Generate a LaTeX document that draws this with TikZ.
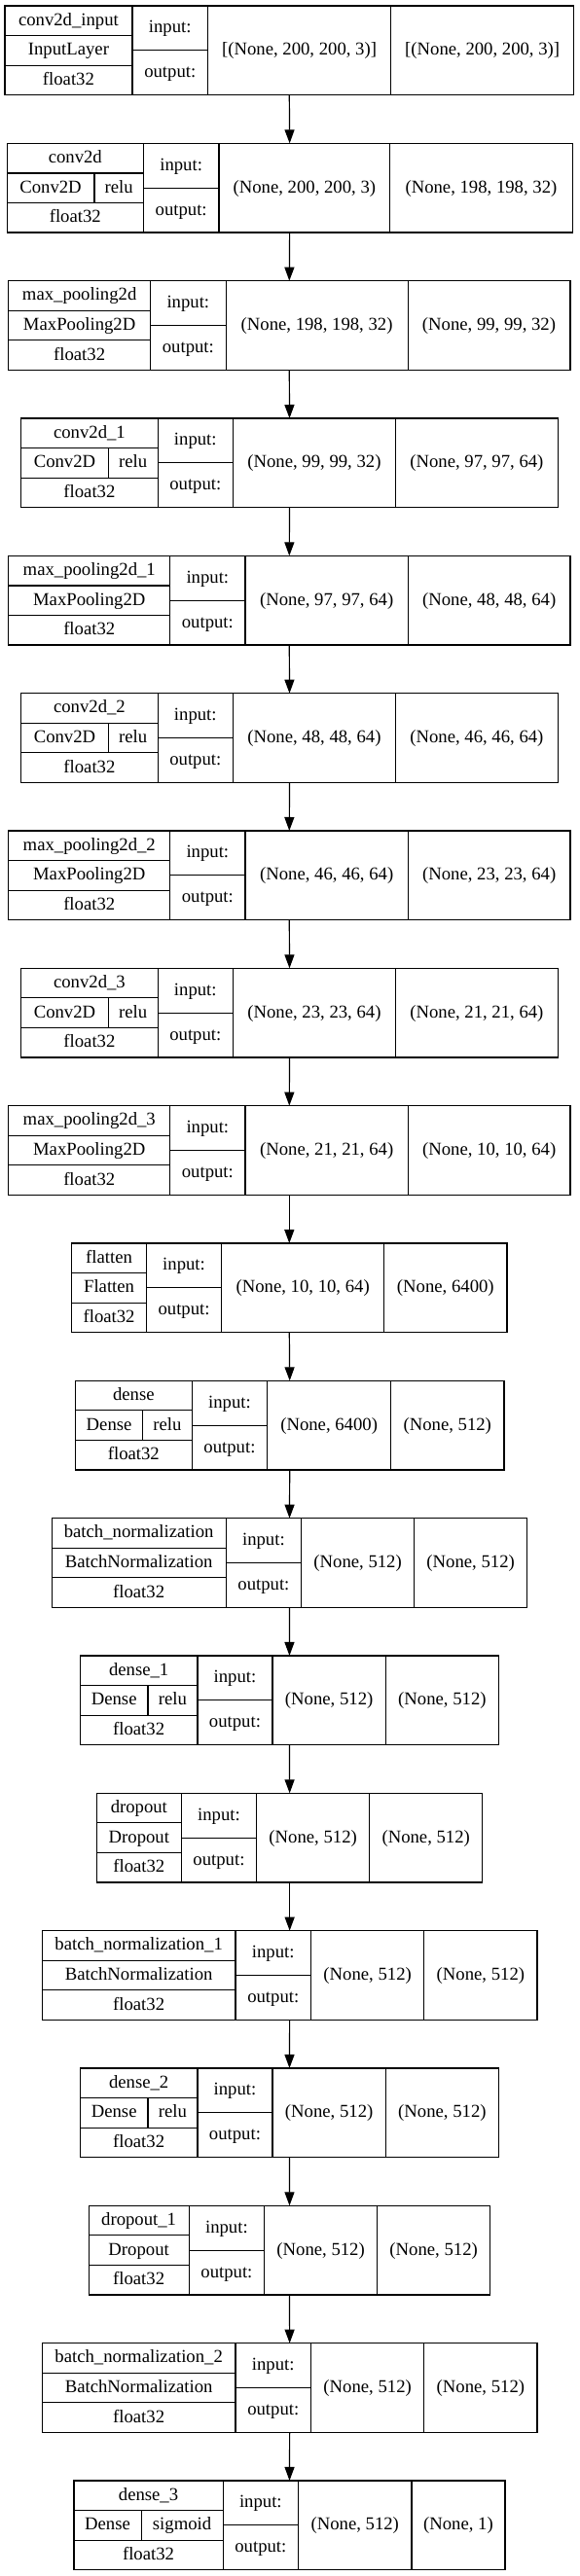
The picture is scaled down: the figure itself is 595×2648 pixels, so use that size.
\documentclass[tikz,border=0pt]{standalone}
\usepackage{fontspec}
\setmainfont{Liberation Serif}
\usetikzlibrary{arrows.meta}
\tikzset{
  outerbox/.style={draw, rectangle, line width=1.2pt, inner sep=0pt, outer sep=0pt, minimum height=91.7pt},
  ln/.style={line width=1.2pt},
  txt/.style={inner sep=0pt, text height=13.5pt, text depth=3.5pt, font=\fontsize{18.7pt}{22pt}\selectfont},
  arr/.style={line width=1.2pt, -{Triangle[length=14pt,width=10pt]}},
}
\newcommand\LYgeom[6]{\def\LYk{#1}\def\LYa{#2}\def\LYb{#3}\def\LYc{#4}\def\LYd{#5}\def\LYe{#6}}
% #1 name, #2 class, #3 activation, #4 activation divider x, #5 input shape, #6 output shape
\newcommand\LYbox[6]{%
  \pgfmathsetmacro\LYt{6+141.33*\LYk}%
  \pgfmathsetmacro\LYbt{\LYt+91.7}%
  \pgfmathsetmacro\LYra{\LYt+30.57}%
  \pgfmathsetmacro\LYrb{\LYt+61.13}%
  \pgfmathsetmacro\LYm{\LYt+45.85}%
  \pgfmathsetmacro\LYw{\LYe-\LYa}%
  \pgfmathsetmacro\LYcx{(\LYa+\LYe)/2}%
  \pgfmathsetmacro\LYnx{(\LYa+\LYb)/2}%
  \pgfmathsetmacro\LYix{(\LYb+\LYc)/2}%
  \pgfmathsetmacro\LYsx{(\LYc+\LYd)/2}%
  \pgfmathsetmacro\LYux{(\LYd+\LYe)/2}%
  \node[outerbox, minimum width=\LYw pt] (b\LYk) at (\LYcx,\LYm) {};
  \draw[ln] (\LYb,\LYt) -- (\LYb,\LYbt);
  \draw[ln] (\LYc,\LYt) -- (\LYc,\LYbt);
  \draw[ln] (\LYd,\LYt) -- (\LYd,\LYbt);
  \draw[ln] (\LYa,\LYra) -- (\LYb,\LYra);
  \draw[ln] (\LYa,\LYrb) -- (\LYb,\LYrb);
  \draw[ln] (\LYb,\LYm) -- (\LYc,\LYm);
  \node[txt] (n\LYk) at (\LYnx,\LYt+15.28) {#1};
  \def\LYtmp{#3}%
  \ifx\LYtmp\empty
    \node[txt] (c\LYk) at (\LYnx,\LYt+45.85) {#2};
  \else
    \draw[ln] (#4,\LYra) -- (#4,\LYrb);
    \node[txt] (c\LYk) at ({(\LYa+#4)/2},\LYt+45.85) {#2};
    \node[txt] (a\LYk) at ({(#4+\LYb)/2},\LYt+45.85) {#3};
  \fi
  \node[txt] (d\LYk) at (\LYnx,\LYt+76.4) {float32};
  \node[txt] (i\LYk) at (\LYix,\LYt+22.9) {input:};
  \node[txt] (o\LYk) at (\LYix,\LYt+68.8) {output:};
  \node[txt] (s\LYk) at (\LYsx,\LYm) {#5};
  \node[txt] (u\LYk) at (\LYux,\LYm) {#6};
}
\begin{document}
\begin{tikzpicture}[x=1pt,y=-1pt]
\useasboundingbox (0,0) rectangle (595,2648);
\fill[white] (0,0) rectangle (595,2648);

\LYgeom{0}{4.9}{136}{213.5}{401.6}{589.7}
\LYbox{conv2d\_input}{InputLayer}{}{0}{[(None, 200, 200, 3)]}{[(None, 200, 200, 3)]}

\LYgeom{1}{7.2}{147.4}{224.9}{400.8}{588.1}
\LYbox{conv2d}{Conv2D}{relu}{96.9}{(None, 200, 200, 3)}{(None, 198, 198, 32)}

\LYgeom{2}{8.7}{154.6}{232.1}{419.1}{585.9}
\LYbox{max\_pooling2d}{MaxPooling2D}{}{0}{(None, 198, 198, 32)}{(None, 99, 99, 32)}

\LYgeom{3}{21.7}{162.2}{239.4}{406.5}{573.3}
\LYbox{conv2d\_1}{Conv2D}{relu}{111.3}{(None, 99, 99, 32)}{(None, 97, 97, 64)}

\LYgeom{4}{8.7}{174.8}{251.9}{419.5}{585.9}
\LYbox{max\_pooling2d\_1}{MaxPooling2D}{}{0}{(None, 97, 97, 64)}{(None, 48, 48, 64)}

\LYgeom{5}{21.7}{162.2}{239.4}{406.5}{573.3}
\LYbox{conv2d\_2}{Conv2D}{relu}{111.3}{(None, 48, 48, 64)}{(None, 46, 46, 64)}

\LYgeom{6}{8.7}{174.8}{251.9}{419.5}{585.9}
\LYbox{max\_pooling2d\_2}{MaxPooling2D}{}{0}{(None, 46, 46, 64)}{(None, 23, 23, 64)}

\LYgeom{7}{21.7}{162.2}{239.4}{406.5}{573.3}
\LYbox{conv2d\_3}{Conv2D}{relu}{111.3}{(None, 23, 23, 64)}{(None, 21, 21, 64)}

\LYgeom{8}{8.7}{174.8}{251.9}{419.5}{585.9}
\LYbox{max\_pooling2d\_3}{MaxPooling2D}{}{0}{(None, 21, 21, 64)}{(None, 10, 10, 64)}

\LYgeom{9}{73.7}{150.5}{227.6}{394.8}{520.9}
\LYbox{flatten}{Flatten}{}{0}{(None, 10, 10, 64)}{(None, 6400)}

\LYgeom{10}{77.5}{197.2}{274.7}{401.6}{517.9}
\LYbox{dense}{Dense}{relu}{146.7}{(None, 6400)}{(None, 512)}

\LYgeom{11}{53.2}{232.1}{309.7}{425.5}{541.8}
\LYbox{batch\_normalization}{BatchNormalization}{}{0}{(None, 512)}{(None, 512)}

\LYgeom{12}{82.4}{202.9}{280}{396.3}{512.5}
\LYbox{dense\_1}{Dense}{relu}{152}{(None, 512)}{(None, 512)}

\LYgeom{13}{99.5}{186.2}{263.7}{379.6}{495.8}
\LYbox{dropout}{Dropout}{}{0}{(None, 512)}{(None, 512)}

\LYgeom{14}{43.3}{242}{319.5}{435.8}{552}
\LYbox{batch\_normalization\_1}{BatchNormalization}{}{0}{(None, 512)}{(None, 512)}

\LYgeom{15}{82.4}{202.9}{280}{396.3}{512.5}
\LYbox{dense\_2}{Dense}{relu}{152}{(None, 512)}{(None, 512)}

\LYgeom{16}{91.2}{194.1}{271.7}{387.5}{503.8}
\LYbox{dropout\_1}{Dropout}{}{0}{(None, 512)}{(None, 512)}

\LYgeom{17}{43.3}{242}{319.5}{435.8}{552}
\LYbox{batch\_normalization\_2}{BatchNormalization}{}{0}{(None, 512)}{(None, 512)}

\LYgeom{18}{76}{229.1}{306.6}{422.9}{519}
\LYbox{dense\_3}{Dense}{sigmoid}{145.1}{(None, 512)}{(None, 1)}

\foreach \i [evaluate=\i as \j using int(\i+1)] in {0,...,17}
  \draw[arr] (b\i.south) -- (b\j.north);
\end{tikzpicture}
\end{document}
